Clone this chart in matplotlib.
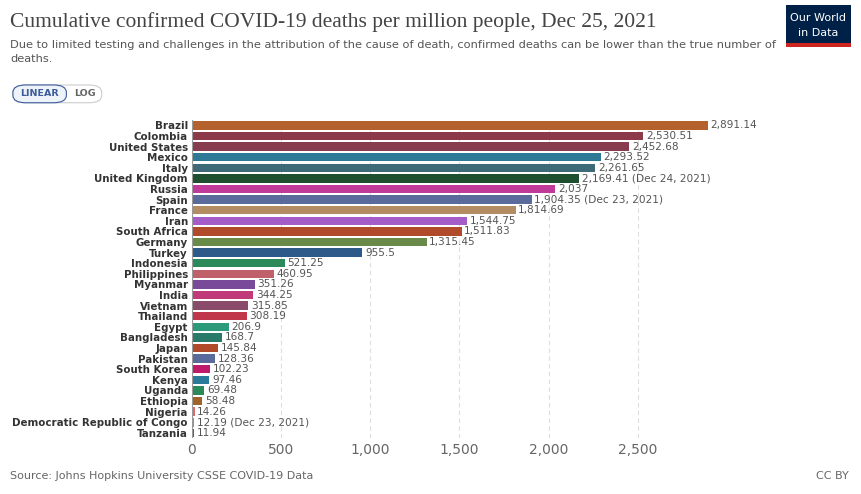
import matplotlib
matplotlib.use("Agg")
import matplotlib.pyplot as plt
from matplotlib.patches import FancyBboxPatch, Rectangle

countries = ["Brazil", "Colombia", "United States", "Mexico", "Italy", "United Kingdom",
             "Russia", "Spain", "France", "Iran", "South Africa", "Germany", "Turkey",
             "Indonesia", "Philippines", "Myanmar", "India", "Vietnam", "Thailand", "Egypt",
             "Bangladesh", "Japan", "Pakistan", "South Korea", "Kenya", "Uganda", "Ethiopia",
             "Nigeria", "Democratic Republic of Congo", "Tanzania"]
values = [2891.14, 2530.51, 2452.68, 2293.52, 2261.65, 2169.41, 2037, 1904.35, 1814.69,
          1544.75, 1511.83, 1315.45, 955.5, 521.25, 460.95, 351.26, 344.25, 315.85, 308.19,
          206.9, 168.7, 145.84, 128.36, 102.23, 97.46, 69.48, 58.48, 14.26, 12.19, 11.94]
labels = ["2,891.14", "2,530.51", "2,452.68", "2,293.52", "2,261.65", "2,169.41 (Dec 24, 2021)",
          "2,037", "1,904.35 (Dec 23, 2021)", "1,814.69", "1,544.75", "1,511.83", "1,315.45",
          "955.5", "521.25", "460.95", "351.26", "344.25", "315.85", "308.19", "206.9",
          "168.7", "145.84", "128.36", "102.23", "97.46", "69.48", "58.48", "14.26",
          "12.19 (Dec 23, 2021)", "11.94"]
colors = ["#B5612E", "#8C3A4A", "#883C50", "#2E7A96", "#3E6A78", "#1E4F2E", "#C03A9A",
          "#5A6A9A", "#B48C64", "#A35CC8", "#B04A2A", "#6A8A4A", "#2E5A8A", "#2A8A5A",
          "#C0606A", "#7A4A9A", "#C03A7A", "#8A4A6A", "#C0364A", "#2A9A7A", "#2A7A6A",
          "#B04A2A", "#5A6A9A", "#C01A6A", "#2A7A9A", "#2A8A5A", "#A0642A", "#E06A6A",
          "#C08A4A", "#6A5A4A"]

fig = plt.figure(figsize=(8.62, 4.94), dpi=100)
ax = fig.add_axes([0.2227, 0.113, 0.6, 0.644])
y = list(range(len(countries)))
ax.barh(y, values, color=colors, height=0.8)
for yi, v, lab in zip(y, values, labels):
    ax.text(v + 15, yi, lab, va="center", ha="left", fontsize=7.6, color="#555555")
ax.set_yticks(y)
ax.set_yticklabels(countries, fontsize=7.4, fontweight="bold", color="#333333")
ax.set_ylim(len(countries) - 0.5, -0.5)
ax.set_xlim(0, 2900)
ax.set_xticks([0, 500, 1000, 1500, 2000, 2500])
ax.set_xticklabels(["0", "500", "1,000", "1,500", "2,000", "2,500"], fontsize=10, color="#666666")
ax.tick_params(axis="both", length=0)
ax.tick_params(axis="y", pad=3)
ax.grid(axis="x", linestyle=(0, (4, 3)), color="#dddddd", linewidth=0.8)
ax.set_axisbelow(True)
for s in ax.spines.values():
    s.set_visible(False)
ax.axvline(0, color="#999999", linewidth=0.8)

fig.text(0.012, 0.955, "Cumulative confirmed COVID-19 deaths per million people, Dec 25, 2021",
         fontsize=15.5, family="Liberation Serif", color="#444444", va="center")
fig.text(0.012, 0.908, "Due to limited testing and challenges in the attribution of the cause of death, "
         "confirmed deaths can be lower than the true number of", fontsize=8.2, color="#555555", va="center")
fig.text(0.012, 0.880, "deaths.", fontsize=8.2, color="#555555", va="center")
fig.text(0.012, 0.03, "Source: Johns Hopkins University CSSE COVID-19 Data", fontsize=8, color="#666666")
fig.text(0.985, 0.03, "CC BY", fontsize=8, color="#666666", ha="right")

# buttons
fig.patches.append(FancyBboxPatch((0.015, 0.792), 0.103, 0.036, boxstyle="round,pad=0,rounding_size=0.015",
                                  transform=fig.transFigure, facecolor="white", edgecolor="#cccccc", lw=0.8))
fig.patches.append(FancyBboxPatch((0.015, 0.792), 0.062, 0.036, boxstyle="round,pad=0,rounding_size=0.015",
                                  transform=fig.transFigure, facecolor="#eef3fa", edgecolor="#3b5b9a", lw=0.8))
fig.text(0.046, 0.810, "LINEAR", fontsize=6.8, fontweight="bold", color="#3b5b9a", ha="center", va="center")
fig.text(0.098, 0.810, "LOG", fontsize=6.8, fontweight="bold", color="#666666", ha="center", va="center")

# logo
fig.patches.append(Rectangle((0.912, 0.905), 0.075, 0.085, transform=fig.transFigure,
                             facecolor="#002147", edgecolor="none"))
fig.patches.append(Rectangle((0.912, 0.905), 0.075, 0.008, transform=fig.transFigure,
                             facecolor="#ce261e", edgecolor="none"))
fig.text(0.9495, 0.963, "Our World", fontsize=8, color="white", ha="center", va="center")
fig.text(0.9495, 0.933, "in Data", fontsize=8, color="white", ha="center", va="center")

fig.savefig("out.png", dpi=100)
